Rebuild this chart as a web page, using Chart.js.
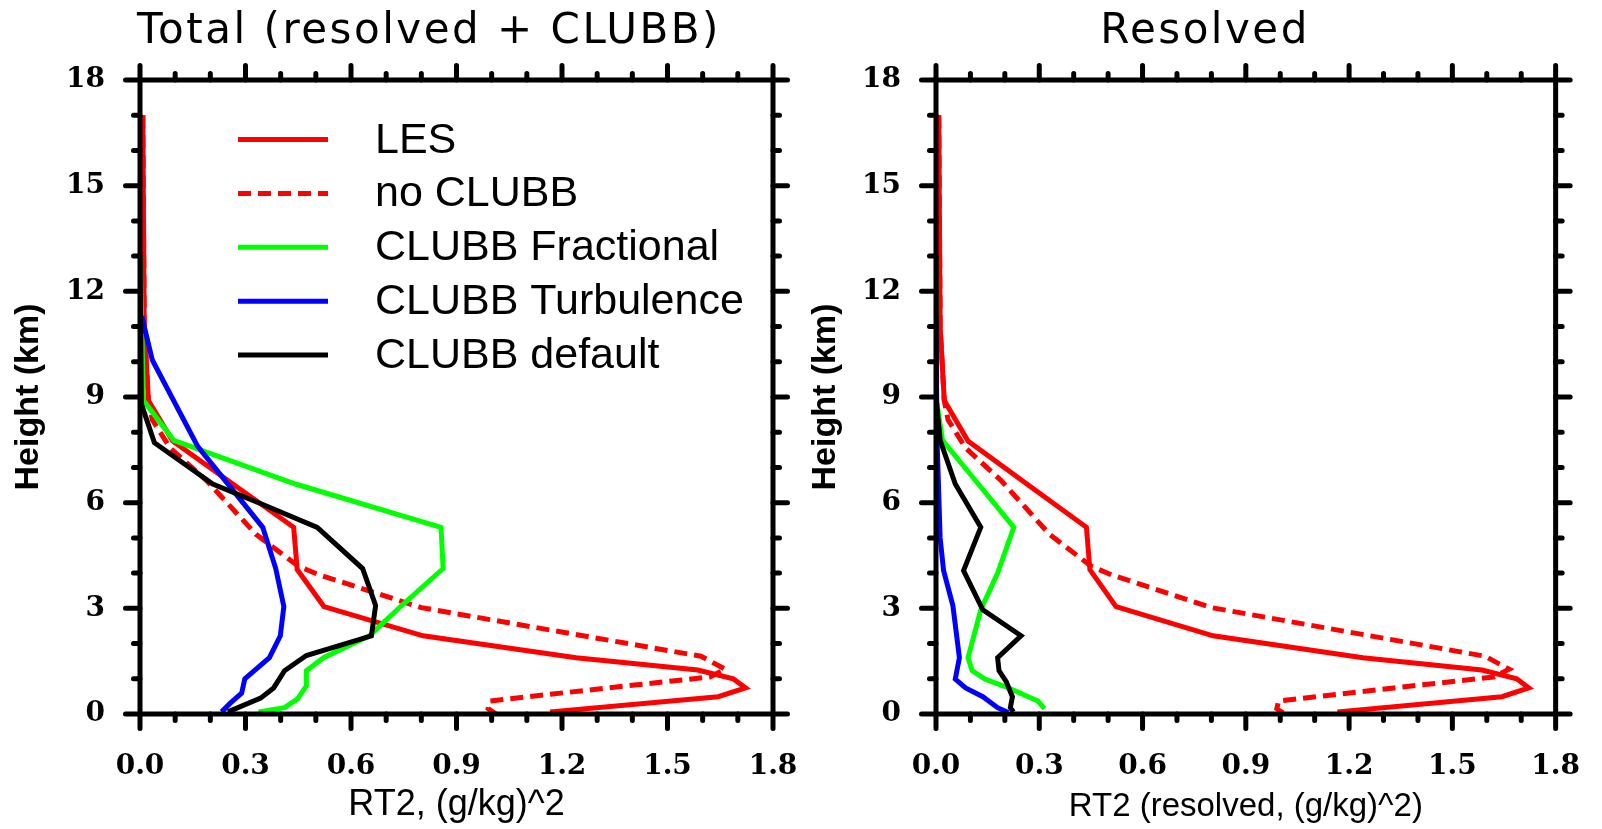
<!DOCTYPE html>
<html>
<head>
<meta charset="utf-8">
<title>RT2 profiles</title>
<script src="https://cdn.jsdelivr.net/npm/chart.js@4.4.0/dist/chart.umd.min.js"></script>
<style>
  html, body { margin: 0; padding: 0; background: #fff; }
  body { width: 1602px; height: 829px; position: relative; overflow: hidden; }
  canvas { position: absolute; top: 0; }
  #total { left: 0; }
  #resolved { left: 808px; }
</style>
</head>
<body>
<canvas id="total" width="858" height="829"></canvas>
<canvas id="resolved" width="794" height="829"></canvas>
<script>
// heights in km, RT2 in (g/kg)^2

// LES and "no CLUBB" are the same in both panels
const lesZ   = [17.0, 11.0, 8.9, 7.75, 6.53, 5.3, 4.1, 3.05, 2.22, 1.6, 1.25, 1.0, 0.74, 0.49, 0.06];
const lesRT2 = [0.008, 0.012, 0.024, 0.093, 0.264, 0.437, 0.447, 0.523, 0.805, 1.24, 1.586, 1.687, 1.722, 1.644, 1.166];

const noClubbZ   = [17.0, 11.0, 8.9, 8.35, 7.55, 6.62, 5.1, 4.2, 3.95, 3.02, 1.64, 1.27, 1.05, 0.74, 0.37, 0.15, 0.0];
const noClubbRT2 = [0.008, 0.012, 0.024, 0.035, 0.086, 0.19, 0.33, 0.45, 0.51, 0.8, 1.595, 1.665, 1.62, 1.33, 0.995, 0.99, 1.013];

// total (resolved + CLUBB)
const fracTotZ   = [13.0, 8.9, 7.77, 6.53, 5.3, 4.13, 3.08, 2.22, 1.6, 1.23, 0.8, 0.43, 0.18, 0.06];
const fracTotRT2 = [0.0, 0.01, 0.096, 0.442, 0.856, 0.862, 0.744, 0.652, 0.522, 0.473, 0.473, 0.448, 0.411, 0.337];

const turbTotZ   = [11.3, 10.05, 7.6, 5.3, 4.13, 3.05, 2.22, 1.6, 1.0, 0.59, 0.3, 0.06];
const turbTotRT2 = [0.005, 0.035, 0.164, 0.349, 0.386, 0.409, 0.399, 0.368, 0.298, 0.289, 0.256, 0.232];

const defTotZ   = [13.0, 8.8, 7.7, 6.53, 5.92, 5.3, 4.13, 3.08, 2.22, 1.66, 1.23, 0.74, 0.45, 0.06];
const defTotRT2 = [0.0, 0.004, 0.041, 0.207, 0.356, 0.504, 0.633, 0.670, 0.658, 0.473, 0.411, 0.38, 0.343, 0.25];

// resolved only
const fracResZ   = [13.0, 9.0, 7.77, 6.53, 5.3, 4.0, 2.96, 1.6, 1.23, 0.99, 0.74, 0.37, 0.15];
const fracResRT2 = [0.0, 0.0, 0.019, 0.123, 0.226, 0.179, 0.13, 0.093, 0.105, 0.142, 0.21, 0.296, 0.315];

const turbResZ   = [11.3, 7.8, 5.0, 4.07, 3.08, 1.6, 0.99, 0.74, 0.49, 0.18, 0.04];
const turbResRT2 = [0.0, 0.003, 0.012, 0.022, 0.049, 0.068, 0.056, 0.086, 0.136, 0.179, 0.21];

const defResZ   = [13.0, 9.0, 7.77, 6.53, 5.3, 4.07, 2.96, 2.22, 1.6, 1.23, 0.92, 0.49, 0.18, 0.06];
const defResRT2 = [0.0, 0.0, 0.012, 0.056, 0.13, 0.08, 0.136, 0.247, 0.179, 0.183, 0.204, 0.222, 0.216, 0.225];

const seriesNames = ["LES", "no CLUBB", "CLUBB Fractional", "CLUBB Turbulence", "CLUBB default"];
const seriesColors = ["#ff0000", "#ff0000", "#00ff00", "#0000ff", "#000000"];

// helpers
const pts = (zs, vs) => zs.map((z, i) => ({ x: vs[i], y: z }));
const isMajorX = v => Math.round(v * 10) % 3 === 0;
const isMajorY = v => Math.round(v) % 3 === 0;

function series(i, zs, vs) {
  return {
    label: seriesNames[i],
    data: pts(zs, vs),
    borderColor: seriesColors[i],
    backgroundColor: seriesColors[i],
    borderWidth: 5,
    borderDash: i === 1 ? [13, 7] : [],
    showLine: true,
    pointRadius: 0,
    fill: false,
    order: 5 - i
  };
}

// box with outward ticks on all four sides
const frame = {
  id: "frame",
  afterDatasetsDraw(chart) {
    const { ctx, chartArea: a, scales: { x, y } } = chart;
    ctx.save();
    ctx.strokeStyle = "#000";
    ctx.lineWidth = 5;
    ctx.lineCap = "round";
    ctx.beginPath();
    x.ticks.forEach(t => {
      const px = x.getPixelForValue(t.value);
      const len = isMajorX(t.value) ? 14.5 : 6.5;
      ctx.moveTo(px, a.bottom); ctx.lineTo(px, a.bottom + len);
      ctx.moveTo(px, a.top); ctx.lineTo(px, a.top - len);
    });
    y.ticks.forEach(t => {
      const py = y.getPixelForValue(t.value);
      const len = isMajorY(t.value) ? 14.5 : 6.5;
      ctx.moveTo(a.left, py); ctx.lineTo(a.left - len, py);
      ctx.moveTo(a.right, py); ctx.lineTo(a.right + len, py);
    });
    ctx.stroke();
    ctx.lineCap = "butt";
    ctx.strokeRect(a.left, a.top, a.right - a.left, a.bottom - a.top);
    ctx.restore();
  }
};

// panel title, slightly letter-spaced
const spacedTitle = {
  id: "spacedTitle",
  afterDraw(chart, args, opts) {
    const { ctx } = chart;
    ctx.save();
    ctx.font = '42px "DejaVu Sans"';
    ctx.letterSpacing = "2.5px";
    ctx.fillStyle = "#000";
    ctx.textAlign = "center";
    ctx.textBaseline = "alphabetic";
    ctx.fillText(opts.text, chart.width / 2, 43);
    ctx.restore();
  }
};

// legend drawn inside the plot, upper left
const lineKey = {
  id: "lineKey",
  afterDraw(chart, args, opts) {
    if (!opts.show) return;
    const { ctx, chartArea: a } = chart;
    ctx.save();
    ctx.font = '43px "Liberation Sans"';
    ctx.fillStyle = "#000";
    ctx.textBaseline = "alphabetic";
    chart.data.datasets.forEach((ds, i) => {
      const yy = a.top + 59.5 + i * 53.9;
      ctx.beginPath();
      ctx.strokeStyle = ds.borderColor;
      ctx.lineWidth = ds.borderWidth;
      ctx.setLineDash(ds.borderDash);
      ctx.moveTo(a.left + 98, yy);
      ctx.lineTo(a.left + 188, yy);
      ctx.stroke();
      ctx.fillText(ds.label, a.left + 235, yy + 13);
    });
    ctx.restore();
  }
};

function makePanel(id, o) {
  const tickFont = { family: "DejaVu Serif", weight: "bold", size: 28, lineHeight: 1 };
  return new Chart(document.getElementById(id), {
    type: "scatter",
    data: { datasets: o.datasets },
    options: {
      responsive: false,
      animation: false,
      events: [],
      layout: { padding: { top: 80 } },
      plugins: {
        legend: { display: false },
        tooltip: { enabled: false },
        title: { display: false },
        spacedTitle: { text: o.title },
        lineKey: { show: o.key }
      },
      scales: {
        x: {
          type: "linear", position: "bottom", min: 0, max: 1.8,
          afterFit: s => { s.height = 115; },
          grid: { drawOnChartArea: false, drawTicks: true, tickLength: 17, color: "rgba(0,0,0,0)" },
          border: { display: false },
          ticks: {
            stepSize: 0.1, autoSkip: false, maxRotation: 0, minRotation: 0,
            padding: 22, color: "#000", font: tickFont,
            callback: v => isMajorX(v) ? v.toFixed(1) : ""
          },
          title: {
            display: true, text: o.xTitle, color: "#000",
            font: { family: "Liberation Sans", size: o.xTitleSize, lineHeight: 1 },
            padding: { top: 0, bottom: 6 }
          }
        },
        y: {
          type: "linear", position: "left", min: 0, max: 18,
          afterFit: s => { s.width = o.yWidth; },
          grid: { drawOnChartArea: false, drawTicks: true, tickLength: 17, color: "rgba(0,0,0,0)" },
          border: { display: false },
          ticks: {
            stepSize: 1, autoSkip: false, padding: 18, color: "#000", font: tickFont,
            callback: v => isMajorY(v) ? String(v) : ""
          },
          title: {
            display: true, text: "Height (km)", color: "#000",
            font: { family: "Liberation Sans", size: 34, weight: "bold", lineHeight: 1 },
            padding: { top: o.yTitlePad, bottom: 0 }
          }
        },
        yr: {
          type: "linear", position: "right", min: 0, max: 18,
          afterFit: s => { s.width = o.rightPad; },
          grid: { display: false }, border: { display: false }, ticks: { display: false }
        }
      }
    },
    plugins: [frame, spacedTitle, lineKey]
  });
}

makePanel("total", {
  title: "Total (resolved + CLUBB)",
  xTitle: "RT2, (g/kg)^2", xTitleSize: 36,
  yWidth: 140, rightPad: 85, yTitlePad: 12, key: true,
  datasets: [
    series(0, lesZ, lesRT2),
    series(1, noClubbZ, noClubbRT2),
    series(2, fracTotZ, fracTotRT2),
    series(3, turbTotZ, turbTotRT2),
    series(4, defTotZ, defTotRT2)
  ]
});

makePanel("resolved", {
  title: "Resolved",
  xTitle: "RT2 (resolved, (g/kg)^2)", xTitleSize: 33,
  yWidth: 128, rightPad: 34, yTitlePad: 0.5, key: false,
  datasets: [
    series(0, lesZ, lesRT2),
    series(1, noClubbZ, noClubbRT2),
    series(2, fracResZ, fracResRT2),
    series(3, turbResZ, turbResRT2),
    series(4, defResZ, defResRT2)
  ]
});
</script>
</body>
</html>
